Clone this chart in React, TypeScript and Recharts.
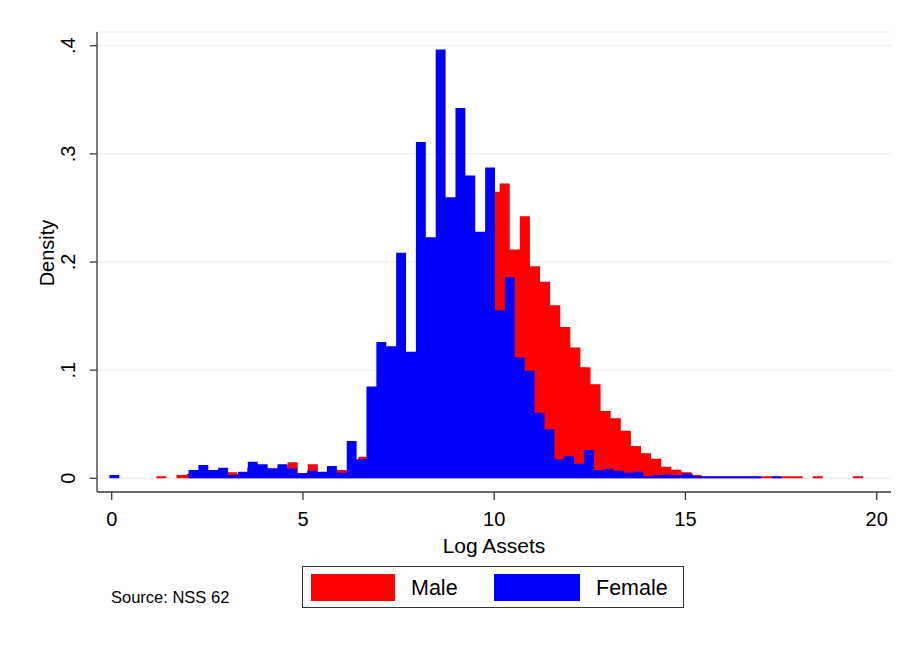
import React from 'react';
import { ComposedChart, Area, XAxis, YAxis, CartesianGrid } from 'recharts';

// Histogram bin layout (log assets)
const maleBinStart = 0.11;
const maleBinWidth = 0.264;
const femaleBinStart = -0.06;
const femaleBinWidth = 0.2585;

// Male density per bin
const maleDensity = [
  0, 0, 0, 0, 0.002, 0, 0.003, 0.004, 0.006, 0.007,
  0.006, 0.0055, 0.004, 0.01, 0.01, 0.008, 0.011, 0.0148, 0.005, 0.0129,
  0.005, 0.008, 0.0077, 0.012, 0.02, 0.03, 0.04, 0.05, 0.065, 0.08,
  0.1, 0.12, 0.14, 0.16, 0.18, 0.2, 0.22, 0.265, 0.2726, 0.2116,
  0.2424, 0.1962, 0.1817, 0.16, 0.14, 0.121, 0.1026, 0.0869, 0.0622, 0.0555,
  0.044, 0.0299, 0.0231, 0.018, 0.0107, 0.008, 0.0055, 0.003, 0.0014, 0.0014,
  0.0014, 0.0014, 0.0014, 0.0014, 0.0018, 0.0014, 0.0018, 0.0018, 0, 0.0018,
  0, 0, 0, 0.0018,
];

// Female density per bin
const femaleDensity = [
  0.003, 0, 0, 0, 0, 0, 0, 0, 0.0077, 0.0123,
  0.0077, 0.0098, 0.003, 0.006, 0.0153, 0.0129, 0.0092, 0.0129, 0.009, 0.0046,
  0.007, 0.006, 0.0114, 0.0052, 0.0345, 0.0175, 0.085, 0.126, 0.122, 0.2085,
  0.117, 0.311, 0.223, 0.3965, 0.26, 0.3425, 0.28, 0.228, 0.2874, 0.1555,
  0.186, 0.1118, 0.0994, 0.0606, 0.0453, 0.0176, 0.0206, 0.0135, 0.0262, 0.0077,
  0.0085, 0.007, 0.0052, 0.006, 0.0018, 0.003, 0.0035, 0.003, 0.0045, 0.002,
  0.002, 0.002, 0.002, 0.002, 0.002, 0.002, 0, 0.002,
];

const xTicks = [0, 5, 10, 15, 20];
const yTicks = [0, 0.1, 0.2, 0.3, 0.4];
const seriesNames = ['Male', 'Female'];
const sourceNote = 'Source: NSS 62';

const FONT = '"Liberation Sans", Arial, Helvetica, sans-serif';

function valueAt(x: number, start: number, width: number, arr: number[]) {
  const i = Math.floor((x - start) / width + 1e-6);
  return i >= 0 && i < arr.length ? arr[i] : 0;
}

function buildTable() {
  const edges = new Set<number>();
  for (let k = 0; k <= femaleDensity.length; k++) edges.add(+(femaleBinStart + k * femaleBinWidth).toFixed(6));
  for (let j = 0; j <= maleDensity.length; j++) edges.add(+(maleBinStart + j * maleBinWidth).toFixed(6));
  return Array.from(edges)
    .sort((a, b) => a - b)
    .map((x) => ({
      x,
      male: valueAt(x, maleBinStart, maleBinWidth, maleDensity),
      female: valueAt(x, femaleBinStart, femaleBinWidth, femaleDensity),
    }));
}

const data = buildTable();

const fmtY = (v: number) => (v === 0 ? '0' : String(v).replace(/^0/, ''));

const YTick = (props: any) => {
  const { y, payload } = props;
  const cx = 60;
  return (
    <text
      x={cx}
      y={y}
      transform={`rotate(-90 ${cx} ${y})`}
      textAnchor="middle"
      dominantBaseline="central"
      fontSize={20}
      fontFamily={FONT}
      fill="#000"
    >
      {fmtY(payload.value)}
    </text>
  );
};

const YLabel = () => {
  const cx = 39;
  const cy = 245;
  return (
    <text
      x={cx}
      y={cy}
      transform={`rotate(-90 ${cx} ${cy})`}
      textAnchor="middle"
      dominantBaseline="central"
      fontSize={20}
      fontFamily={FONT}
      fill="#000"
    >
      Density
    </text>
  );
};

export default function App() {
  return (
    <div style={{ position: 'relative', width: 886, height: 643, fontFamily: FONT }}>
      <ComposedChart
        width={886}
        height={643}
        data={data}
        margin={{ top: 24, right: 3, bottom: 119, left: 0 }}
      >
        <CartesianGrid horizontal vertical={false} stroke="#e8edef" strokeWidth={1} />
        <XAxis
          dataKey="x"
          type="number"
          domain={[-0.3843, 20.3739]}
          allowDataOverflow
          ticks={xTicks}
          interval={0}
          height={40}
          tickSize={8}
          tickMargin={12}
          axisLine={{ stroke: '#3a3a3a', strokeWidth: 1.3 }}
          tickLine={{ stroke: '#3a3a3a', strokeWidth: 1.3 }}
          tick={{ fontSize: 20, fill: '#000', fontFamily: FONT }}
          label={{ value: 'Log Assets', position: 'bottom', offset: 6, fontSize: 21, fill: '#000', fontFamily: FONT }}
        />
        <YAxis
          type="number"
          domain={[-0.01267, 0.4127]}
          allowDataOverflow
          ticks={yTicks}
          interval={0}
          width={89}
          tickSize={7}
          tickMargin={2}
          axisLine={{ stroke: '#3a3a3a', strokeWidth: 1.3 }}
          tickLine={{ stroke: '#3a3a3a', strokeWidth: 1.3 }}
          tick={<YTick />}
          label={<YLabel />}
        />
        <Area
          type="stepAfter"
          dataKey="male"
          name={seriesNames[0]}
          fill="#ff0000"
          fillOpacity={1}
          stroke="none"
          dot={false}
          activeDot={false}
          isAnimationActive={false}
        />
        <Area
          type="stepAfter"
          dataKey="female"
          name={seriesNames[1]}
          fill="#0000ff"
          fillOpacity={1}
          stroke="none"
          dot={false}
          activeDot={false}
          isAnimationActive={false}
        />
      </ComposedChart>
      <div
        style={{
          position: 'absolute',
          left: 103,
          top: 579,
          fontSize: 16.5,
          lineHeight: '20px',
          color: '#000',
          whiteSpace: 'nowrap',
        }}
      >
        {sourceNote}
      </div>
      <div
        style={{
          position: 'absolute',
          left: 294,
          top: 558,
          width: 380,
          height: 40,
          border: '1.5px solid #333',
          boxSizing: 'content-box',
        }}
      >
        <div style={{ position: 'absolute', left: 8, top: 7, width: 84, height: 27, background: '#ff0000' }} />
        <div style={{ position: 'absolute', left: 108, top: 1, height: 41, lineHeight: '41px', fontSize: 21.5, color: '#000' }}>
          {seriesNames[0]}
        </div>
        <div style={{ position: 'absolute', left: 191, top: 7, width: 86, height: 27, background: '#0000ff' }} />
        <div style={{ position: 'absolute', left: 293, top: 1, height: 41, lineHeight: '41px', fontSize: 21.5, color: '#000' }}>
          {seriesNames[1]}
        </div>
      </div>
    </div>
  );
}
